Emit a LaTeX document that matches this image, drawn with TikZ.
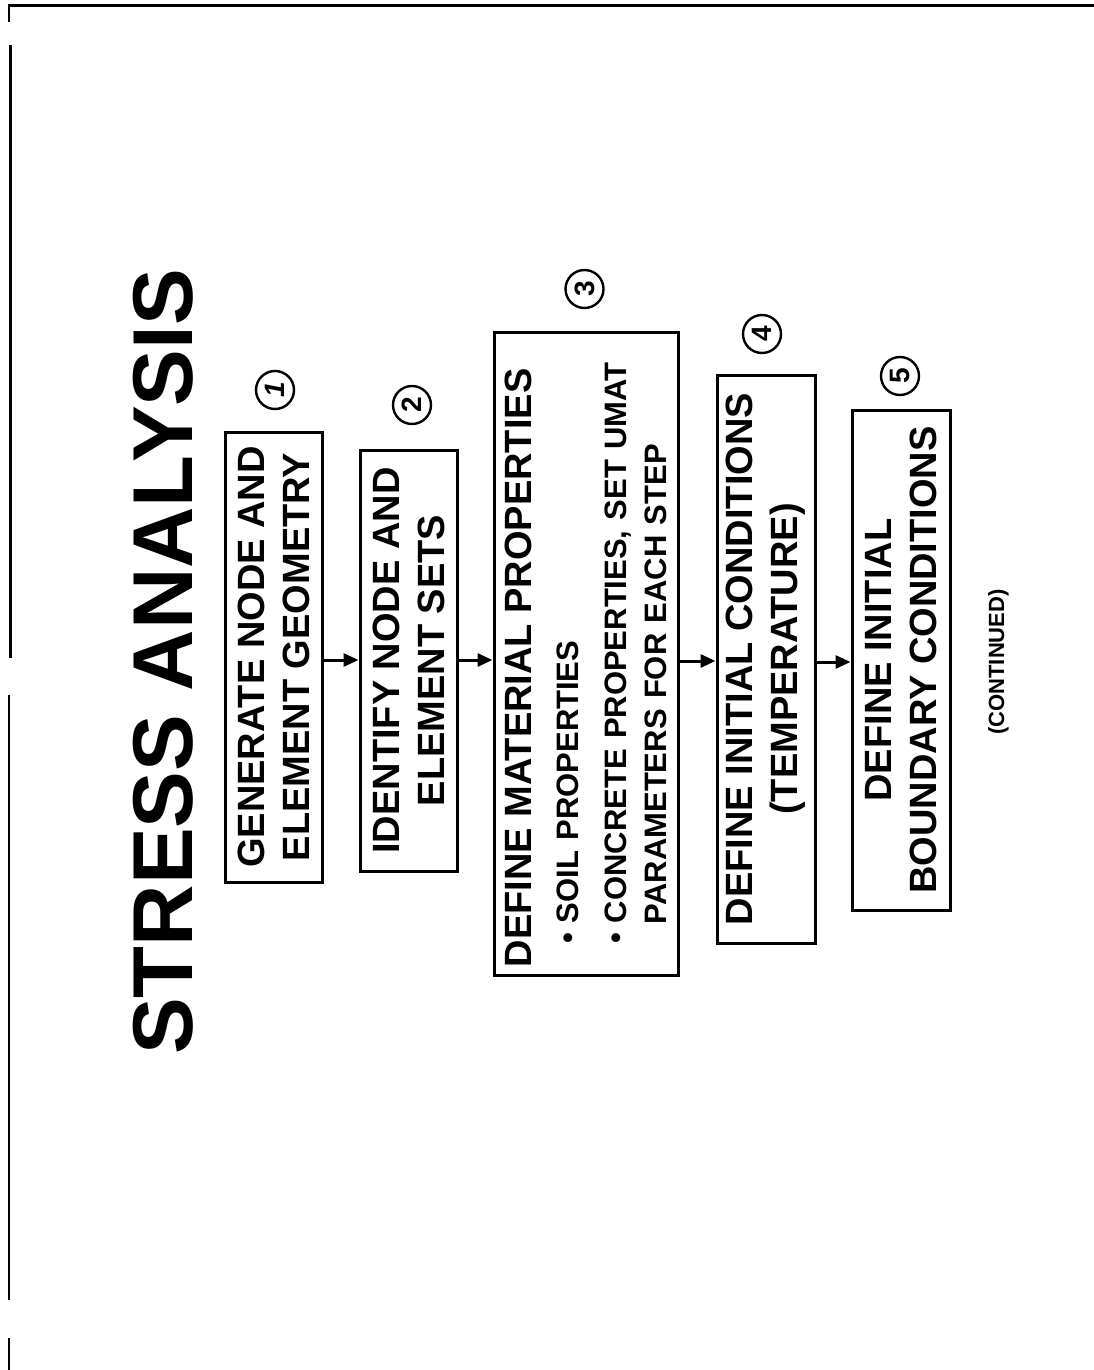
\documentclass[tikz,border=0pt]{standalone}
\usepackage{fontspec}
\setmainfont{Liberation Sans}
\usetikzlibrary{arrows.meta}
\begin{document}
\begin{tikzpicture}[x=1pt,y=-1pt,
  box/.style={draw, line width=3pt, rotate=90, align=center, inner sep=0pt,
    font=\bfseries\fontsize{38}{45}\selectfont},
  num/.style={draw, circle, line width=2.4pt, minimum size=38pt, inner sep=0pt,
    rotate=90, font=\bfseries\fontsize{28}{28}\selectfont},
  arr/.style={line width=3pt, -{Triangle[length=15pt,width=13pt]}},
  frameline/.style={line width=2.8pt}]
\useasboundingbox[fill=white] (0,0) rectangle (1094,1370);

% page edge lines
\draw[frameline] (8,5.5) -- (1094,5.5);
\draw[frameline] (9,4) -- (9,22);
\draw[frameline] (10.5,45) -- (10.5,658);
\draw[frameline] (9,695) -- (9,1300);
\draw[frameline] (9,1338) -- (9,1370);

% title
\node[rotate=90, anchor=base, inner sep=0pt,
  font=\bfseries\fontsize{85}{85}\selectfont] (title) at (192,662) {STRESS ANALYSIS};

% boxes
\node[box, minimum width=450pt, minimum height=97pt] (b1) at (273.5,657)
  {GENERATE NODE AND\\ELEMENT GEOMETRY};
\node[box, minimum width=421pt, minimum height=97pt] (b2) at (408.5,660.5)
  {IDENTIFY NODE AND\\ELEMENT SETS};
\node[draw, line width=3pt, rotate=90, inner xsep=8pt, inner ysep=0pt,
  text width=627pt, minimum height=184pt, align=left,
  font=\bfseries\fontsize{31}{44}\selectfont] (b3) at (586,653.5)
  {{\fontsize{38}{45}\selectfont DEFINE MATERIAL PROPERTIES}\\[3pt]
   \hspace*{24pt}\textbullet\hspace{9pt}SOIL PROPERTIES\\[4pt]
   \hspace*{24pt}\textbullet\hspace{9pt}CONCRETE PROPERTIES, SET UMAT\\[-4pt]
   \hspace*{43pt}PARAMETERS FOR EACH STEP};
\node[box, minimum width=568pt, minimum height=98pt] (b4) at (766,659)
  {DEFINE INITIAL CONDITIONS\\(TEMPERATURE)};
\node[box, minimum width=500pt, minimum height=98pt] (b5) at (901,660)
  {DEFINE INITIAL\\BOUNDARY CONDITIONS};

% step numbers
\node[num] (c1) at (275,390) {\itshape 1};
\node[num] (c2) at (412,405) {2};
\node[num] (c3) at (584.5,289) {3};
\node[num] (c4) at (762,334) {4};
\node[num] (c5) at (900,376) {5};

% arrows
\draw[arr] (b1.south |- 0,660) -- (b2.north |- 0,660);
\draw[arr] (b2.south |- 0,660) -- (b3.north |- 0,660);
\draw[arr] (b3.south |- 0,661) -- (b4.north |- 0,661);
\draw[arr] (b4.south |- 0,662) -- (b5.north |- 0,662);

% continued
\node[rotate=90, anchor=base, inner sep=0pt,
  font=\bfseries\fontsize{22}{22}\selectfont] (cont) at (1004,662) {(CONTINUED)};
\end{tikzpicture}
\end{document}
